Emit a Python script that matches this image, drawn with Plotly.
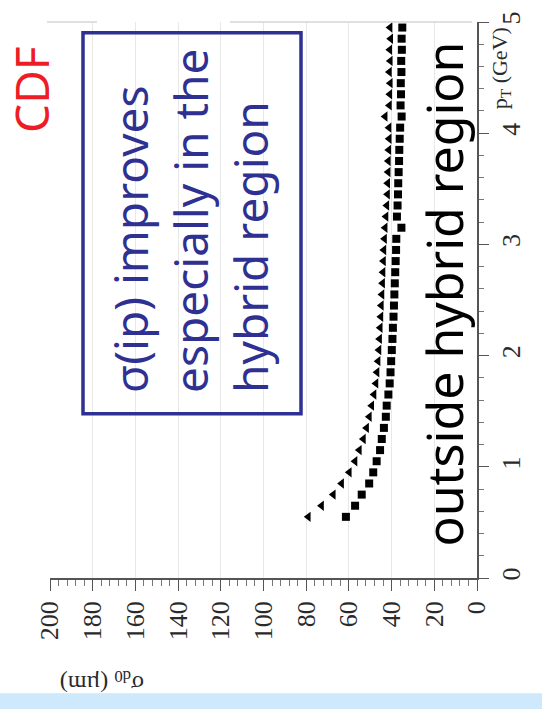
import plotly.graph_objects as go

# ---- data ----
pt = [0.55, 0.65, 0.75, 0.85, 0.95, 1.05, 1.15, 1.25, 1.35, 1.45,
      1.55, 1.65, 1.75, 1.85, 1.95, 2.05, 2.15, 2.25, 2.35, 2.45,
      2.55, 2.65, 2.75, 2.85, 2.95, 3.05, 3.15, 3.25, 3.35, 3.45,
      3.55, 3.65, 3.75, 3.85, 3.95, 4.05, 4.15, 4.25, 4.35, 4.45,
      4.55, 4.65, 4.75, 4.85, 4.95]

sigma_triangle = [79.0, 72.8, 67.3, 63.4, 59.8, 57.1, 55.1, 53.2, 51.7, 50.4,
                  49.3, 48.2, 47.3, 46.8, 46.3, 45.9, 45.6, 45.3, 45.0, 44.8,
                  44.5, 44.2, 44.0, 43.8, 43.6, 43.3, 43.0, 42.6, 42.2, 41.9,
                  41.8, 41.6, 41.5, 41.3, 41.1, 41.2, 43.0, 41.0, 40.8, 40.6,
                  41.0, 40.6, 40.8, 40.4, 40.7]

sigma_square = [61.4, 57.1, 54.0, 50.5, 48.6, 47.0, 45.4, 44.6, 43.6, 42.7,
                42.3, 41.5, 40.9, 40.5, 40.2, 39.9, 39.6, 39.4, 39.1, 38.9,
                38.7, 38.5, 38.3, 38.1, 37.9, 37.8, 35.4, 37.5, 37.2, 37.0,
                36.9, 36.7, 36.5, 36.4, 36.2, 36.0, 35.3, 35.8, 35.6, 35.7,
                35.4, 35.5, 35.2, 35.3, 35.0]

sigma_ticks = [0, 20, 40, 60, 80, 100, 120, 140, 160, 180, 200]
pt_ticks = [0, 1, 2, 3, 4, 5]

# ---- layout helpers (pixel -> paper) ----
W, H = 542, 709
PL, PR, PT, PB = 50, 477, 13, 578


def fx(px):
    return (px - PL) / (PR - PL)


def fy(py):
    return (PB - py) / (PB - PT)


fig = go.Figure()
fig.add_trace(go.Scatter(x=sigma_triangle, y=pt, mode="markers",
                         marker=dict(symbol="triangle-left", size=9, color="black"),
                         showlegend=False))
fig.add_trace(go.Scatter(x=sigma_square, y=pt, mode="markers",
                         marker=dict(symbol="square", size=8, color="black"),
                         showlegend=False))

tickfont = dict(family="Liberation Serif", size=26, color="#2a2a2a")

fig.update_layout(
    width=W, height=H, autosize=False,
    margin=dict(l=PL, r=W - PR, t=PT, b=H - PB, pad=0),
    paper_bgcolor="white", plot_bgcolor="white",
    xaxis=dict(range=[200, 0], tickvals=sigma_ticks, ticktext=[str(v) for v in sigma_ticks],
               tickangle=-90, tickfont=tickfont, ticks="outside", ticklen=11,
               tickcolor="#555555", showline=True, linecolor="#555555", linewidth=1.5,
               showgrid=True, gridcolor="#e8e8e8", gridwidth=1, zeroline=False,
               ticklabelstandoff=0,
               minor=dict(dtick=4, ticks="outside", ticklen=6, tickcolor="#777777", showgrid=False)),
    yaxis=dict(range=[0, 5], side="right", tickvals=pt_ticks, ticktext=[str(v) for v in pt_ticks],
               tickangle=-90, tickfont=tickfont, ticks="outside", ticklen=10,
               tickcolor="#555555", showline=True, linecolor="#555555", linewidth=1.5,
               showgrid=False, zeroline=False,
               minor=dict(dtick=0.2, ticks="outside", ticklen=5, tickcolor="#777777", showgrid=False)),
)

shapes = [
    # light-blue band at bottom
    dict(type="rect", xref="paper", yref="paper", x0=fx(0), x1=fx(W), y0=fy(H + 2), y1=fy(695),
         fillcolor="#cde9fb", line=dict(width=0)),
    # top frame segments
    dict(type="line", xref="paper", yref="paper", x0=fx(47), x1=fx(97), y0=1, y1=1,
         line=dict(color="#d6d6d6", width=1.5)),
    dict(type="line", xref="paper", yref="paper", x0=fx(230), x1=fx(472), y0=1, y1=1,
         line=dict(color="#d6d6d6", width=1.5)),
    # blue box
    dict(type="rect", xref="paper", yref="paper", x0=fx(83), x1=fx(301), y0=fy(411), y1=fy(24),
         line=dict(color="#2e3192", width=3.5), fillcolor="rgba(0,0,0,0)"),
]
fig.update_layout(shapes=shapes)

annotations = [
    dict(text="CDF", x=fx(31), y=fy(82), xref="paper", yref="paper", showarrow=False,
         textangle=-90, xanchor="center", yanchor="middle",
         font=dict(family="Noto Sans", size=46, color="#ee1c25")),
    dict(text="σ(ip) improves<br>especially in the<br>hybrid region", x=fx(190), y=fy(391),
         xref="paper", yref="paper", showarrow=False, textangle=-90, align="left",
         xanchor="center", yanchor="bottom", borderpad=0,
         font=dict(family="Noto Sans", size=46, color="#2e3192")),
    dict(text="outside hybrid region", x=fx(444), y=fy(290), xref="paper", yref="paper",
         showarrow=False, textangle=-90, xanchor="center", yanchor="middle",
         font=dict(family="Noto Sans", size=50, color="black")),
    dict(text="σ<sub>d0</sub> (µm)", x=fx(102), y=fy(683), xref="paper", yref="paper",
         showarrow=False, textangle=180, xanchor="center", yanchor="middle",
         font=dict(family="Liberation Serif", size=24, color="#2a2a2a")),
    dict(text="p<sub>T</sub> (GeV)", x=fx(501), y=fy(60), xref="paper", yref="paper",
         showarrow=False, textangle=-90, xanchor="center", yanchor="middle",
         font=dict(family="Liberation Serif", size=22, color="#2a2a2a")),
]
fig.update_layout(annotations=annotations)

fig.write_html("out.html")
